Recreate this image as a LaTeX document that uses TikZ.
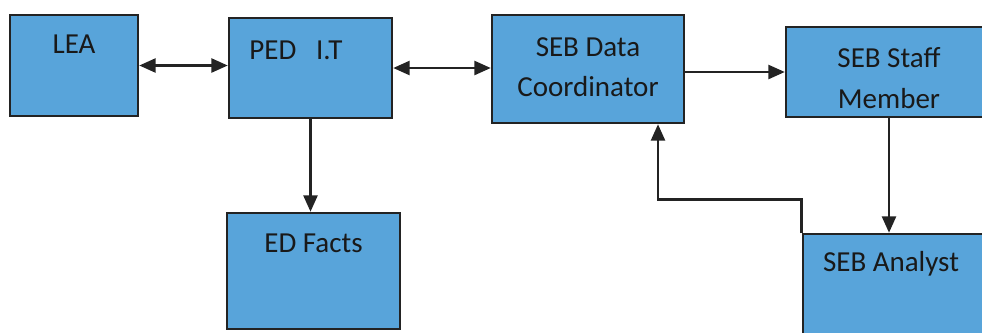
\documentclass[tikz,border=0pt]{standalone}
\usepackage{fontspec}
\setmainfont{Carlito}
\usepackage{tikz}
\usetikzlibrary{arrows.meta, positioning, calc}
\definecolor{kotakbiru}{RGB}{88,164,218}
\definecolor{garis}{RGB}{35,35,35}

\begin{document}
\begin{tikzpicture}[
    x=0.02cm, y=-0.02cm,
    font=\fontsize{16.5}{23}\selectfont,
    kotak/.style={draw=garis, line width=1.4pt, fill=kotakbiru, inner sep=0pt},
    teks/.style={anchor=center, text=black!90, align=center, inner sep=0pt},
    panah/.style={-{Triangle[length=3.3mm, width=2.8mm]}, garis, line width=1.5pt},
    dua/.style={{Triangle[length=3.3mm, width=2.8mm]}-{Triangle[length=3.3mm, width=2.8mm]},
                garis, line width=1.5pt}
  ]
    \clip (0,0) rectangle (982,332);
    \node[kotak, minimum width=2.56cm, minimum height=2.02cm,
          label={[teks, yshift=-0.6cm]north:LEA}] (lea) at (74,65.5) {};
    \node[kotak, minimum width=3.26cm, minimum height=2.0cm,
          label={[teks, yshift=-0.68cm, xshift=-0.29cm]north:PED\ \ \ I.T}] (ped) at (310.5,68) {};
    \node[kotak, minimum width=3.84cm, minimum height=2.16cm,
          label={[teks, yshift=0.04cm]center:SEB Data\\Coordinator}] (data) at (588,69) {};
    \node[kotak, minimum width=4.12cm, minimum height=1.8cm,
          label={[teks, yshift=-0.12cm]center:SEB Staff\\Member}] (staff) at (889,72) {};
    \node[kotak, minimum width=3.46cm, minimum height=2.32cm,
          label={[teks, yshift=-0.64cm]north:ED Facts}] (ed) at (313.5,271) {};
    \node[kotak, minimum width=3.94cm, minimum height=2.2cm,
          label={[teks, yshift=-0.62cm, xshift=-0.21cm]north:SEB Analyst}] (analyst) at (901.5,289) {};
    % penghubung
    \draw[dua] (lea.east) -- (lea.east -| ped.west);
    \draw[dua] (ped.east) -- (ped.east -| data.west);
    \draw[panah] (data.east |- staff.west) -- (staff.west);
    \draw[panah] (ped.south) -- (ped.south |- ed.north);
    \draw[panah] (staff.south) -- (staff.south |- analyst.north);
    \draw[panah] (analyst.north west) -- ++(0,-33) -| ($(data.south)+(70,0)$);
\end{tikzpicture}
\end{document}
